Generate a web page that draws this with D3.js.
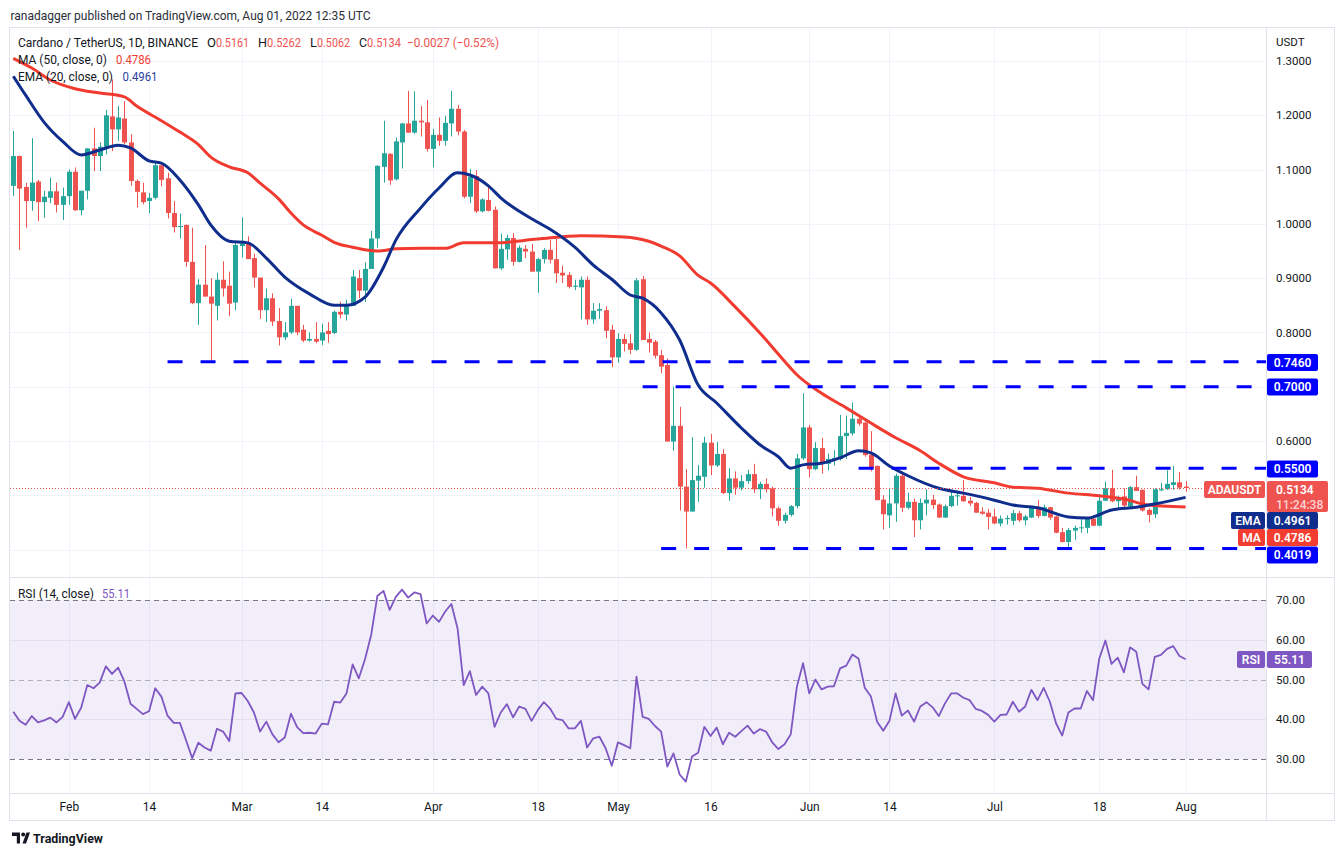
<!DOCTYPE html>
<html><head><meta charset="utf-8">
<script src="https://cdn.jsdelivr.net/npm/d3@7"></script>
<style>
body{margin:0;background:#fff;}
svg{display:block;font-family:Roboto,"Open Sans",sans-serif;}
</style></head><body>
<svg id="c" width="1344" height="857"></svg>
<script>
// ---------------- DATA ----------------
const startDate = "2022-01-23";
const endDate = "2022-08-01";
const open = [1.070,1.125,1.068,1.042,1.078,1.040,1.048,1.060,1.035,1.051,
1.096,1.025,1.061,1.139,1.125,1.142,1.198,1.174,1.194,1.150,
1.079,1.058,1.042,1.048,1.108,1.084,1.020,0.995,0.998,0.930,
0.854,0.888,0.866,0.849,0.897,0.886,0.855,0.959,0.964,0.937,
0.901,0.841,0.863,0.821,0.791,0.800,0.849,0.805,0.785,0.788,
0.785,0.803,0.799,0.838,0.833,0.849,0.900,0.877,0.917,0.973,
1.105,1.129,1.082,1.150,1.185,1.168,1.190,1.187,1.138,1.164,
1.153,1.185,1.212,1.170,1.050,1.088,1.023,1.044,1.026,0.918,
0.953,0.974,0.930,0.954,0.949,0.912,0.935,0.952,0.935,0.910,
0.906,0.884,0.883,0.897,0.824,0.840,0.841,0.805,0.754,0.788,
0.780,0.768,0.898,0.788,0.783,0.758,0.740,0.599,0.628,0.516,
0.470,0.527,0.534,0.597,0.555,0.576,0.504,0.531,0.514,0.526,
0.539,0.511,0.521,0.513,0.476,0.453,0.464,0.480,0.568,0.625,
0.548,0.587,0.558,0.566,0.567,0.609,0.614,0.641,0.634,0.575,
0.554,0.492,0.463,0.485,0.536,0.477,0.488,0.454,0.485,0.492,
0.483,0.459,0.480,0.498,0.499,0.490,0.486,0.470,0.468,0.461,
0.448,0.456,0.453,0.467,0.454,0.459,0.477,0.462,0.478,0.461,
0.432,0.414,0.435,0.440,0.440,0.457,0.444,0.490,0.513,0.489,
0.498,0.479,0.515,0.510,0.473,0.465,0.509,0.511,0.519,0.524,
0.5161];
const high = [1.171,1.126,1.076,1.158,1.081,1.061,1.085,1.076,1.067,1.100,
1.104,1.061,1.139,1.177,1.150,1.210,1.266,1.217,1.226,1.165,
1.082,1.076,1.057,1.113,1.113,1.094,1.042,1.019,0.999,0.993,
0.898,0.961,0.900,0.910,0.931,0.912,0.969,1.012,0.977,0.945,
0.901,0.881,0.872,0.845,0.819,0.862,0.849,0.814,0.800,0.819,
0.816,0.819,0.840,0.857,0.860,0.915,0.915,0.929,0.987,1.108,
1.190,1.130,1.159,1.186,1.245,1.244,1.217,1.228,1.175,1.196,
1.199,1.245,1.219,1.173,1.101,1.099,1.047,1.071,1.032,0.982,
0.980,0.983,0.960,0.961,0.963,0.937,0.955,0.970,0.972,0.923,
0.911,0.897,0.903,0.903,0.854,0.854,0.848,0.814,0.799,0.797,
0.797,0.900,0.904,0.800,0.786,0.768,0.752,0.700,0.663,0.548,
0.607,0.556,0.608,0.613,0.598,0.585,0.550,0.544,0.537,0.547,
0.558,0.525,0.531,0.516,0.479,0.468,0.482,0.576,0.688,0.630,
0.598,0.606,0.577,0.583,0.648,0.647,0.671,0.646,0.636,0.618,
0.555,0.500,0.512,0.540,0.540,0.505,0.494,0.494,0.511,0.501,
0.485,0.483,0.507,0.509,0.528,0.497,0.488,0.478,0.475,0.475,
0.463,0.463,0.473,0.471,0.464,0.479,0.491,0.483,0.479,0.462,
0.440,0.440,0.444,0.457,0.460,0.463,0.501,0.525,0.547,0.499,
0.513,0.517,0.536,0.511,0.476,0.513,0.523,0.546,0.554,0.543,
0.5262];
const low = [1.051,0.952,0.993,1.024,1.005,1.011,1.038,1.021,1.007,1.035,
1.024,1.016,1.045,1.097,1.097,1.128,1.134,1.153,1.147,1.070,
1.030,1.036,1.020,1.045,1.069,1.010,0.984,0.973,0.921,0.852,
0.814,0.866,0.748,0.822,0.866,0.830,0.841,0.938,0.935,0.883,
0.825,0.819,0.812,0.776,0.786,0.797,0.795,0.782,0.783,0.780,
0.777,0.781,0.797,0.826,0.822,0.849,0.863,0.856,0.917,0.956,
1.076,1.072,1.080,1.102,1.168,1.166,1.161,1.133,1.104,1.144,
1.144,1.161,1.163,1.047,1.038,1.020,1.021,1.023,0.918,0.915,
0.934,0.923,0.929,0.937,0.912,0.873,0.927,0.927,0.891,0.891,
0.881,0.878,0.824,0.814,0.816,0.825,0.789,0.736,0.744,0.765,
0.760,0.766,0.786,0.763,0.752,0.725,0.599,0.582,0.472,0.402,
0.470,0.488,0.514,0.537,0.552,0.502,0.490,0.501,0.509,0.521,
0.504,0.493,0.505,0.461,0.444,0.448,0.461,0.476,0.565,0.533,
0.546,0.540,0.546,0.555,0.564,0.567,0.610,0.628,0.571,0.544,
0.491,0.437,0.440,0.451,0.469,0.474,0.423,0.437,0.463,0.475,
0.458,0.458,0.478,0.481,0.488,0.480,0.468,0.464,0.437,0.447,
0.443,0.446,0.445,0.451,0.445,0.458,0.458,0.461,0.455,0.430,
0.413,0.402,0.418,0.431,0.430,0.443,0.443,0.489,0.487,0.475,
0.473,0.477,0.508,0.470,0.450,0.458,0.508,0.510,0.510,0.511,
0.5062];
const close = [1.125,1.065,1.042,1.076,1.040,1.050,1.060,1.035,1.051,1.096,
1.025,1.061,1.139,1.125,1.142,1.200,1.174,1.196,1.150,1.079,
1.059,1.040,1.048,1.108,1.081,1.020,0.994,0.996,0.930,0.854,
0.888,0.866,0.853,0.897,0.881,0.853,0.961,0.964,0.935,0.901,
0.841,0.863,0.820,0.791,0.800,0.849,0.800,0.785,0.788,0.783,
0.800,0.797,0.838,0.833,0.851,0.903,0.877,0.917,0.973,1.107,
1.130,1.080,1.152,1.185,1.168,1.190,1.187,1.138,1.164,1.153,
1.186,1.212,1.170,1.050,1.087,1.023,1.045,1.024,0.918,0.954,
0.974,0.930,0.956,0.949,0.912,0.935,0.952,0.934,0.909,0.905,
0.884,0.886,0.897,0.824,0.840,0.843,0.803,0.754,0.788,0.779,
0.768,0.896,0.786,0.781,0.757,0.737,0.599,0.628,0.516,0.470,
0.528,0.536,0.597,0.555,0.576,0.504,0.531,0.514,0.526,0.539,
0.511,0.521,0.511,0.476,0.453,0.464,0.480,0.568,0.625,0.548,
0.587,0.558,0.567,0.569,0.609,0.615,0.641,0.632,0.574,0.550,
0.491,0.465,0.485,0.536,0.477,0.488,0.454,0.486,0.492,0.482,
0.459,0.480,0.499,0.500,0.489,0.485,0.468,0.466,0.460,0.448,
0.457,0.458,0.467,0.454,0.461,0.477,0.462,0.478,0.459,0.431,
0.414,0.436,0.440,0.441,0.458,0.444,0.490,0.513,0.489,0.496,
0.481,0.515,0.508,0.472,0.464,0.511,0.511,0.521,0.524,0.514,
0.5134];
const rsi = [41.9,39.6,38.6,40.8,39.2,39.7,40.4,39.2,40.6,44.3,
40.1,42.9,48.6,47.8,49.2,53.3,51.4,53.0,49.5,43.9,
42.6,41.3,42.0,47.8,45.7,40.9,39.1,39.1,34.7,30.2,
34.1,32.9,32.1,37.6,36.9,34.5,46.5,46.6,44.6,41.7,
36.9,39.4,36.2,34.2,35.4,41.4,38.0,36.5,36.6,36.4,
38.9,38.7,44.4,44.2,46.5,53.8,50.3,55.1,61.2,71.0,
72.3,67.5,70.8,72.6,70.6,71.9,71.5,64.1,66.1,64.5,
67.1,69.0,62.9,48.6,52.1,46.1,48.2,46.5,38.1,41.7,
43.8,40.5,43.2,42.6,39.6,42.3,44.3,42.7,40.1,39.8,
37.7,37.7,39.6,32.9,35.2,35.6,32.7,28.3,34.2,33.5,
32.7,50.7,40.6,40.1,38.3,36.9,28.1,31.4,26.1,24.3,
30.6,31.6,38.1,35.8,37.9,33.7,36.6,35.6,37.0,38.4,
36.4,37.5,36.9,34.2,32.5,33.7,36.2,48.2,54.1,46.5,
50.0,47.5,48.2,48.3,52.8,53.5,56.3,55.2,47.9,45.7,
39.4,37.1,39.6,46.5,40.9,42.2,39.4,43.2,44.3,43.0,
40.8,44.0,46.5,46.5,45.4,44.8,42.6,42.1,41.1,39.4,
41.1,41.2,44.4,41.9,43.2,47.4,44.8,47.9,44.4,39.0,
35.9,41.7,42.7,42.7,47.1,44.8,55.2,59.8,53.9,55.5,
51.8,58.1,57.0,48.9,47.5,55.7,56.2,57.7,58.4,55.9,
55.11];
const maDates = ["2022-01-23","2022-01-26","2022-01-29","2022-02-02","2022-02-06","2022-02-10","2022-02-12","2022-02-16","2022-02-19","2022-02-22","2022-02-24","2022-02-27","2022-03-02","2022-03-04","2022-03-07","2022-03-09","2022-03-11","2022-03-14","2022-03-16","2022-03-19","2022-03-23","2022-03-26","2022-03-30","2022-04-03","2022-04-06","2022-04-11","2022-04-18","2022-04-25","2022-05-02","2022-05-06","2022-05-08","2022-05-11","2022-05-14","2022-05-16","2022-05-20","2022-05-24","2022-05-28","2022-05-30","2022-06-03","2022-06-07","2022-06-11","2022-06-15","2022-06-19","2022-06-22","2022-06-26","2022-07-01","2022-07-04","2022-07-08","2022-07-13","2022-07-18","2022-07-22","2022-07-26","2022-07-29","2022-08-01"];
const maValues = [1.305,1.287,1.265,1.249,1.241,1.234,1.217,1.190,1.169,1.146,1.123,1.105,1.094,1.075,1.046,1.020,0.998,0.979,0.966,0.957,0.950,0.954,0.955,0.955,0.965,0.965,0.972,0.978,0.976,0.968,0.959,0.941,0.905,0.891,0.847,0.799,0.747,0.722,0.688,0.661,0.633,0.606,0.582,0.559,0.534,0.523,0.515,0.513,0.504,0.499,0.493,0.482,0.480,0.4786];
const emaDates = ["2022-01-23","2022-01-25","2022-01-28","2022-01-31","2022-02-03","2022-02-06","2022-02-09","2022-02-11","2022-02-14","2022-02-16","2022-02-19","2022-02-22","2022-02-24","2022-02-27","2022-03-02","2022-03-05","2022-03-08","2022-03-12","2022-03-16","2022-03-18","2022-03-21","2022-03-24","2022-03-26","2022-03-30","2022-04-02","2022-04-05","2022-04-07","2022-04-10","2022-04-12","2022-04-18","2022-04-20","2022-04-24","2022-04-27","2022-04-30","2022-05-03","2022-05-05","2022-05-08","2022-05-11","2022-05-14","2022-05-17","2022-05-21","2022-05-24","2022-05-27","2022-05-29","2022-05-31","2022-06-03","2022-06-06","2022-06-09","2022-06-11","2022-06-14","2022-06-17","2022-06-22","2022-06-26","2022-07-01","2022-07-04","2022-07-08","2022-07-13","2022-07-16","2022-07-20","2022-07-24","2022-07-27","2022-08-01"];
const emaValues = [1.272,1.237,1.187,1.152,1.127,1.136,1.145,1.140,1.116,1.112,1.081,1.035,0.998,0.968,0.965,0.937,0.902,0.871,0.850,0.850,0.865,0.920,0.970,1.029,1.066,1.094,1.090,1.070,1.048,1.003,0.990,0.957,0.924,0.898,0.869,0.863,0.836,0.786,0.703,0.670,0.624,0.593,0.571,0.550,0.556,0.559,0.569,0.582,0.578,0.554,0.536,0.513,0.504,0.491,0.482,0.477,0.460,0.458,0.473,0.478,0.484,0.4961];
const tickDates = ["2022-02-01","2022-02-14","2022-03-01","2022-03-14","2022-04-01","2022-04-18","2022-05-01","2022-05-16","2022-06-01","2022-06-14","2022-07-01","2022-07-18","2022-08-01"];
const tickLabels = ["Feb","14","Mar","14","Apr","18","May","16","Jun","14","Jul","18","Aug"];
const priceTicks = [1.3,1.2,1.1,1.0,0.9,0.8,0.6];
const priceGrid = [1.3,1.2,1.1,1.0,0.9,0.8,0.7,0.6,0.5,0.4];
const rsiTicks = [70,60,50,40,30];
const levels = [{v:0.7460,from:"2022-02-17"},{v:0.7000,from:"2022-05-05"},{v:0.5500,from:"2022-06-09"},{v:0.4019,from:"2022-05-08"}];

// ---------------- SCALES ----------------
const parse = d3.utcParse("%Y-%m-%d");
const days = d3.utcDay.range(parse(startDate), d3.utcDay.offset(parse(endDate),1));
const x = d3.scaleUtc().domain([parse(startDate), parse(endDate)]).range([13.3, 1185.6]);
const y = d3.scaleLinear().domain([0.6,1.3]).range([441,61]);
const yr = d3.scaleLinear().domain([30,70]).range([759,600]);
const L=10, R=1266, mainTop=28, mainBot=577, rsiTop=579, rsiBot=793;
const UP="#26a69a", DN="#ef5350", MAC="#f23b30", EMAC="#0f2d8c", RSIC="#7e57c2", TXT="#131722";

const svg = d3.select("#c");
const defs = svg.append("defs");
defs.append("clipPath").attr("id","cm").append("rect").attr("x",L).attr("y",mainTop).attr("width",R-L).attr("height",mainBot-mainTop);
defs.append("clipPath").attr("id","cr").append("rect").attr("x",L).attr("y",rsiTop).attr("width",R-L).attr("height",rsiBot-rsiTop);

// header
svg.append("text").attr("x",10.5).attr("y",20).attr("font-size",13).attr("fill","#2a2e39")
  .attr("textLength",360).attr("lengthAdjust","spacingAndGlyphs")
  .text("ranadagger published on TradingView.com, Aug 01, 2022 12:35 UTC");

// grids
const grid = svg.append("g").attr("stroke","#f0f3fa").attr("stroke-width",1);
tickDates.forEach(d=>{
  const xx = Math.round(x(parse(d)))+0.5;
  grid.append("line").attr("x1",xx).attr("x2",xx).attr("y1",mainTop).attr("y2",mainBot);
  grid.append("line").attr("x1",xx).attr("x2",xx).attr("y1",rsiTop).attr("y2",rsiBot);
});
priceGrid.forEach(v=>{
  const yy = Math.round(y(v))+0.5;
  grid.append("line").attr("x1",L).attr("x2",R).attr("y1",yy).attr("y2",yy);
});

// RSI background band & lines
const rg = svg.append("g").attr("clip-path","url(#cr)");
rg.append("rect").attr("x",L).attr("y",yr(70)).attr("width",R-L).attr("height",yr(30)-yr(70)).attr("fill","rgba(126,87,194,0.1)");
[60,40].forEach(v=>rg.append("line").attr("x1",L).attr("x2",R).attr("y1",Math.round(yr(v))+0.5).attr("y2",Math.round(yr(v))+0.5).attr("stroke","#e4dff0"));
[70,50,30].forEach(v=>rg.append("line").attr("x1",L).attr("x2",R).attr("y1",Math.round(yr(v))+0.5).attr("y2",Math.round(yr(v))+0.5)
  .attr("stroke", v===50?"rgba(120,123,134,0.55)":"#787b86").attr("stroke-dasharray","5,4"));
rg.append("path").datum(rsi).attr("fill","none").attr("stroke",RSIC).attr("stroke-width",1.8).attr("stroke-linejoin","round")
  .attr("d", d3.line().x((d,i)=>x(days[i])).y(d=>yr(d)));

// candles
const cg = svg.append("g").attr("clip-path","url(#cm)");
const bw = 5;
days.forEach((d,i)=>{
  const up = close[i] >= open[i];
  const col = up?UP:DN;
  const xc = Math.round(x(d));
  cg.append("line").attr("x1",xc+0.5).attr("x2",xc+0.5).attr("y1",y(high[i])).attr("y2",y(low[i])).attr("stroke",col).attr("stroke-width",1);
  const y0 = y(Math.max(open[i],close[i])), y1 = y(Math.min(open[i],close[i]));
  cg.append("rect").attr("x",xc+0.5-bw/2).attr("y",y0).attr("width",bw).attr("height",Math.max(1,y1-y0)).attr("fill",col);
});

// MA & EMA
const lineGen = d3.line().x(d=>x(d.t)).y(d=>y(d.v)).curve(d3.curveMonotoneX);
const maData = maDates.map((d,i)=>({t:parse(d),v:maValues[i]}));
const emaData = emaDates.map((d,i)=>({t:parse(d),v:emaValues[i]}));
cg.append("path").datum(maData).attr("fill","none").attr("stroke",MAC).attr("stroke-width",3).attr("d",lineGen);
cg.append("path").datum(emaData).attr("fill","none").attr("stroke",EMAC).attr("stroke-width",3).attr("d",lineGen);

// horizontal levels
levels.forEach(l=>{
  const yy = y(l.v);
  cg.append("line").attr("x1",x(parse(l.from))).attr("x2",R).attr("y1",yy).attr("y2",yy)
    .attr("stroke","#0000ff").attr("stroke-width",3).attr("stroke-dasharray","15,18");
});
// last price dotted line
cg.append("line").attr("x1",L).attr("x2",1204).attr("y1",Math.round(y(close[close.length-1]))+0.5).attr("y2",Math.round(y(close[close.length-1]))+0.5)
  .attr("stroke",DN).attr("stroke-width",1).attr("stroke-dasharray","1,2");

// frame
const fr = svg.append("g").attr("stroke","#e0e3eb").attr("fill","none");
fr.append("rect").attr("x",9.5).attr("y",27.5).attr("width",1325).attr("height",793);
fr.append("line").attr("x1",1266.5).attr("x2",1266.5).attr("y1",27.5).attr("y2",820.5);
fr.append("line").attr("x1",9.5).attr("x2",1334.5).attr("y1",577.5).attr("y2",577.5);
fr.append("line").attr("x1",9.5).attr("x2",1334.5).attr("y1",793.5).attr("y2",793.5);

// price axis
const pa = svg.append("g").attr("transform","translate(1267,0)")
  .call(d3.axisRight(y).tickValues(priceTicks).tickFormat(d3.format(".4f")).tickSize(0).tickPadding(9));
pa.select(".domain").remove();
pa.selectAll("text").attr("font-size",11.5).attr("fill",TXT).attr("font-family","Roboto,sans-serif");
svg.append("text").attr("x",1276).attr("y",46).attr("font-size",11.5).attr("fill",TXT).text("USDT");

// RSI axis
const ra = svg.append("g").attr("transform","translate(1267,0)")
  .call(d3.axisRight(yr).tickValues(rsiTicks).tickFormat(d3.format(".2f")).tickSize(0).tickPadding(9));
ra.select(".domain").remove();
ra.selectAll("text").attr("font-size",11.5).attr("fill",TXT).attr("font-family","Roboto,sans-serif");

// time axis
const ta = svg.append("g").attr("transform","translate(0,794)")
  .call(d3.axisBottom(x).tickValues(tickDates.map(parse)).tickFormat((d,i)=>tickLabels[i]).tickSize(0).tickPadding(8));
ta.select(".domain").remove();
ta.selectAll("text").attr("font-size",12).attr("fill",TXT).attr("font-family","Roboto,sans-serif");

// tags
function tag(x0,yc,w,h,fill,label,color,weight){
  svg.append("rect").attr("x",x0).attr("y",yc-h/2).attr("width",w).attr("height",h).attr("rx",2).attr("fill",fill);
  svg.append("text").attr("x",x0+w/2).attr("y",yc+4.2).attr("text-anchor","middle").attr("font-size",12)
    .attr("font-weight",weight||600).attr("fill",color||"#fff").text(label);
}
tag(1267,362.5,51,17,"#0000ff","0.7460");
tag(1267,387,51,17,"#0000ff","0.7000");
tag(1267,469,51,17,"#0000ff","0.5500");
tag(1204,489.5,61,17,DN,"ADAUSDT");
svg.append("rect").attr("x",1267).attr("y",481).attr("width",61).attr("height",31).attr("rx",2).attr("fill",DN);
svg.append("text").attr("x",1276).attr("y",494).attr("font-size",12).attr("font-weight",600).attr("fill","#fff").text("0.5134");
svg.append("text").attr("x",1276).attr("y",508.5).attr("font-size",12).attr("font-weight",500).attr("fill","#fbd3d3").text("11:24:38");
tag(1231,520.5,34,17,EMAC,"EMA");
tag(1267,520.5,51,17,EMAC,"0.4961");
tag(1238,537.5,27,17,"#f23d30","MA");
tag(1267,537.5,51,17,"#f23d30","0.4786");
tag(1267,555,51,17,"#0000ff","0.4019");
tag(1237,659.5,28,17,RSIC,"RSI");
tag(1267,659.5,45,17,RSIC,"55.11");

// legends
function txt(x0,yb,w,s,color){
  svg.append("text").attr("x",x0).attr("y",yb).attr("font-size",12.5).attr("fill",color)
    .attr("textLength",w).attr("lengthAdjust","spacingAndGlyphs").text(s);
}
txt(18,47,180,"Cardano / TetherUS, 1D, BINANCE",TXT);
txt(207,47,9,"O",TXT); txt(216,47,33,"0.5161",DN);
txt(258,47,9,"H",TXT); txt(267,47,34,"0.5262",DN);
txt(310,47,7,"L",TXT); txt(317,47,33,"0.5062",DN);
txt(359,47,8,"C",TXT); txt(367,47,34,"0.5134",DN);
txt(407,47,92,"\u22120.0027 (\u22120.52%)",DN);
txt(18,64,89,"MA (50, close, 0)",TXT); txt(116,64,35,"0.4786",MAC);
txt(18,80.5,95,"EMA (20, close, 0)",TXT); txt(122.5,80.5,35,"0.4961","#2a3ea0");
txt(18,598,76,"RSI (14, close)",TXT); txt(102,598,28,"55.11",RSIC);

// TradingView logo
const lg = svg.append("g").attr("fill",TXT);
lg.append("path").attr("d","M12,832.5 h8 v11 h-3.2 v-7.6 h-4.8 z");
lg.append("circle").attr("cx",23.2).attr("cy",834.6).attr("r",2);
lg.append("path").attr("d","M22.5,843.5 L26.5,832.5 L30,832.5 L26,843.5 z");
svg.append("text").attr("x",33).attr("y",843).attr("font-size",13).attr("font-weight",700).attr("fill",TXT)
  .attr("textLength",70).attr("lengthAdjust","spacingAndGlyphs").text("TradingView");
</script>
</body></html>
